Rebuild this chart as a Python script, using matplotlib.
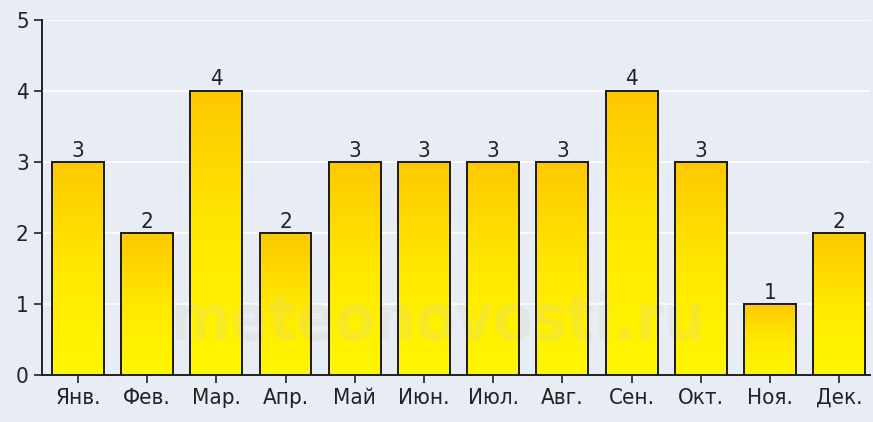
import matplotlib
matplotlib.use("Agg")
import matplotlib.pyplot as plt
import numpy as np
from matplotlib import font_manager as fm
from matplotlib.colors import LinearSegmentedColormap

# monthly values
months = ['Янв.', 'Фев.', 'Мар.', 'Апр.', 'Май', 'Июн.',
          'Июл.', 'Авг.', 'Сен.', 'Окт.', 'Ноя.', 'Дек.']
values = [3, 2, 4, 2, 3, 3, 3, 3, 4, 3, 1, 2]
y_ticks = [0, 1, 2, 3, 4, 5]

names = {f.name for f in fm.fontManager.ttflist}
family = 'Liberation Sans Narrow' if 'Liberation Sans Narrow' in names else 'DejaVu Sans'
plt.rcParams['font.family'] = [family, 'DejaVu Sans']
plt.rcParams['font.stretch'] = 'condensed'

bg = '#e7ecf5'
fig = plt.figure(figsize=(8.73, 4.22), dpi=100, facecolor=bg)
ax = fig.add_axes([0.048, 0.111, 0.949, 0.842])
ax.set_facecolor(bg)

x = np.arange(len(months))

for y in y_ticks[1:]:
    ax.axhline(y, color='white', lw=1.2, zorder=1)

# watermark
ax.text(5.2, 0.75, 'meteonovosti.ru', fontsize=46, fontweight='bold',
        color='#d9d2b0', alpha=0.22, ha='center', va='center', zorder=4)

cmap = LinearSegmentedColormap.from_list('yel', ['#fff700', '#ffe800', '#fdc800'])
grad = np.linspace(0, 1, 256).reshape(-1, 1)

bars = ax.bar(x, values, width=0.75, facecolor='none', edgecolor='#1a1a1a',
              linewidth=1.4, zorder=5)
for b, v in zip(bars, values):
    im = ax.imshow(grad, cmap=cmap, aspect='auto', origin='lower',
                   extent=[b.get_x(), b.get_x() + b.get_width(), 0, v],
                   vmin=0, vmax=1, zorder=3)
    im.set_clip_path(b)
    ax.text(b.get_x() + b.get_width() / 2, v + 0.02, str(v), ha='center',
            va='bottom', fontsize=16, color='#222222', zorder=6)

ax.set_xlim(-0.52, 11.45)
ax.set_ylim(0, 5)
ax.set_xticks(x)
ax.set_xticklabels(months)
ax.set_yticks(y_ticks)
ax.tick_params(axis='both', labelsize=16, colors='#222222', length=6, width=1.2)
ax.tick_params(axis='x', pad=3)

for s in ['top', 'right']:
    ax.spines[s].set_visible(False)
for s in ['left', 'bottom']:
    ax.spines[s].set_color('#222222')
    ax.spines[s].set_linewidth(1.4)

fig.savefig('out.png', dpi=100, facecolor=bg)
